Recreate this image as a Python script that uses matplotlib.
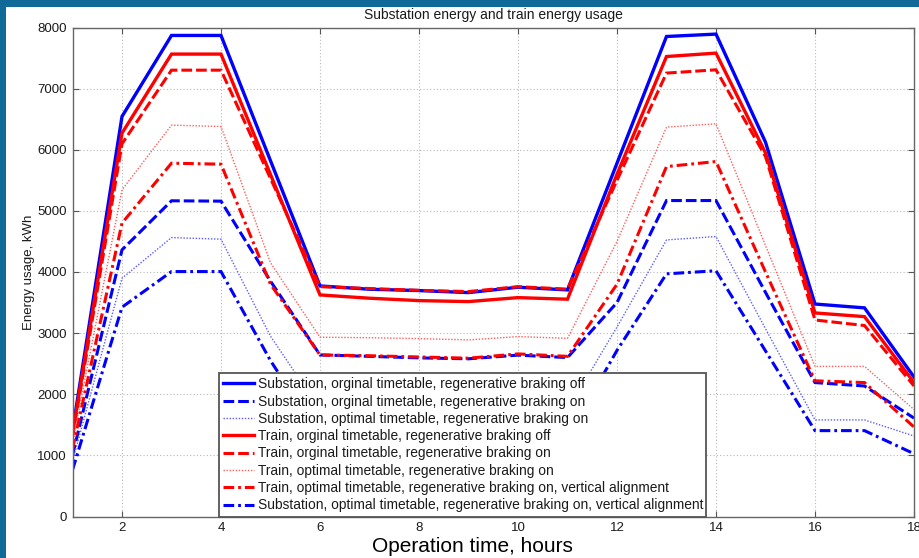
import matplotlib
matplotlib.use('Agg')
import matplotlib.pyplot as plt
from matplotlib.patches import Rectangle

hours = list(range(1, 19))
sub_orig_off = [1400, 6544, 7870, 7870, 5820, 3772, 3718, 3696, 3663, 3751, 3707, 5780, 7853, 7892, 6124, 3476, 3413, 2282]
sub_orig_on = [1000, 4362, 5165, 5159, 3850, 2643, 2620, 2595, 2580, 2640, 2600, 3500, 5169, 5169, 3666, 2191, 2135, 1610]
sub_opt_on = [900, 3898, 4563, 4537, 2950, 1750, 1740, 1720, 1700, 1760, 1740, 3100, 4525, 4580, 3072, 1580, 1580, 1317]
train_orig_off = [1350, 6272, 7565, 7565, 5595, 3625, 3571, 3532, 3516, 3581, 3555, 5600, 7525, 7581, 5949, 3330, 3270, 2191]
train_orig_on = [1300, 6097, 7302, 7302, 5530, 3760, 3730, 3700, 3680, 3760, 3720, 5500, 7254, 7308, 5890, 3215, 3124, 2135]
train_opt_on = [1200, 5344, 6403, 6380, 4150, 2933, 2925, 2910, 2889, 2943, 2915, 4500, 6370, 6424, 4434, 2455, 2455, 1750]
train_opt_va = [1100, 4800, 5780, 5764, 3800, 2643, 2630, 2610, 2590, 2660, 2620, 3800, 5725, 5807, 4000, 2220, 2191, 1464]
sub_opt_va = [760, 3424, 4007, 4007, 2550, 1300, 1290, 1270, 1260, 1310, 1290, 2718, 3970, 4020, 2709, 1405, 1405, 1027]

labels = [
    "Substation, orginal timetable, regenerative braking off",
    "Substation, orginal timetable, regenerative braking on",
    "Substation, optimal timetable, regenerative braking on",
    "Train, orginal timetable, regenerative braking off",
    "Train, orginal timetable, regenerative braking on",
    "Train, optimal timetable, regenerative braking on",
    "Train, optimal timetable, regenerative braking on, vertical alignment",
    "Substation, optimal timetable, regenerative braking on, vertical alignment",
]
series = [sub_orig_off, sub_orig_on, sub_opt_on, train_orig_off,
          train_orig_on, train_opt_on, train_opt_va, sub_opt_va]
styles = [
    dict(color='#0000ff', lw=2.4, ls='-'),
    dict(color='#0000ff', lw=2.2, ls=(0, (3.5, 1.3))),
    dict(color='#5c5cff', lw=1.0, ls=(0, (1, 1.2))),
    dict(color='#ff0000', lw=2.4, ls='-'),
    dict(color='#ff0000', lw=2.2, ls=(0, (3.5, 1.3))),
    dict(color='#ff5c5c', lw=1.0, ls=(0, (1, 1.2))),
    dict(color='#ff0000', lw=2.2, ls=(0, (3.5, 1.3, 0.9, 1.3))),
    dict(color='#0000ff', lw=2.2, ls=(0, (3.5, 1.3, 0.9, 1.3))),
]

W, H = 919, 558
fig = plt.figure(figsize=(W / 100, H / 100), dpi=100)
fig.patch.set_facecolor('#0f6a97')
bg = fig.add_axes([0, 0, 1, 1], zorder=-5)
bg.set_xlim(0, W)
bg.set_ylim(H, 0)
bg.axis('off')
bg.add_patch(Rectangle((6, 7), W, H, facecolor='white', edgecolor='none'))

x0, x1, y0, y1 = 72.5, 914, 516.5, 27.5
ax = fig.add_axes([x0 / W, 1 - y0 / H, (x1 - x0) / W, (y0 - y1) / H], zorder=1)
ax.set_facecolor('white')

for s, lab, st in zip(series, labels, styles):
    ax.plot(hours, s, label=lab, solid_joinstyle='miter', dash_joinstyle='miter', **st)

ax.set_xlim(1, 18)
ax.set_ylim(0, 8000)
ax.set_xticks(range(2, 19, 2))
ax.set_yticks(range(0, 8001, 1000))
ax.grid(True, color='#b8b8b8', ls=(0, (1, 2)), lw=0.8)
ax.tick_params(direction='in', length=4, width=0.8, color='#555555',
               top=True, right=True, labelsize=9.5, labelcolor='#1a1a1a', pad=4)
for lab in ax.get_xticklabels() + ax.get_yticklabels():
    lab.set_fontfamily('Liberation Sans')
for sp in ax.spines.values():
    sp.set_color('#666666')
    sp.set_linewidth(1.0)

ax.set_title('Substation energy and train energy usage', fontsize=10,
             family='Liberation Sans', color='#1a1a1a', pad=6)
ax.set_ylabel('Energy usage, kWh', fontsize=9.5, family='Liberation Sans',
              color='#1a1a1a', labelpad=2)

leg = ax.legend(loc='lower left', bbox_to_anchor=(0.1744, 0.0, 0.5786, 0.2945),
                mode='expand', prop={'family': 'Liberation Sans', 'size': 9.9},
                frameon=True, fancybox=False, framealpha=1, edgecolor='#555555',
                handlelength=2.25, handletextpad=0.3, labelspacing=0.24,
                borderpad=0.3, borderaxespad=0.0)
leg.get_frame().set_linewidth(1.3)
for t in leg.get_texts():
    t.set_color('#1a1a1a')

fig.text(472 / W, 1 - 547 / H, 'Operation time, hours', ha='center', va='center',
         fontsize=15, family='Liberation Sans', color='#000000')

fig.savefig('out.png', dpi=100, facecolor=fig.get_facecolor())
